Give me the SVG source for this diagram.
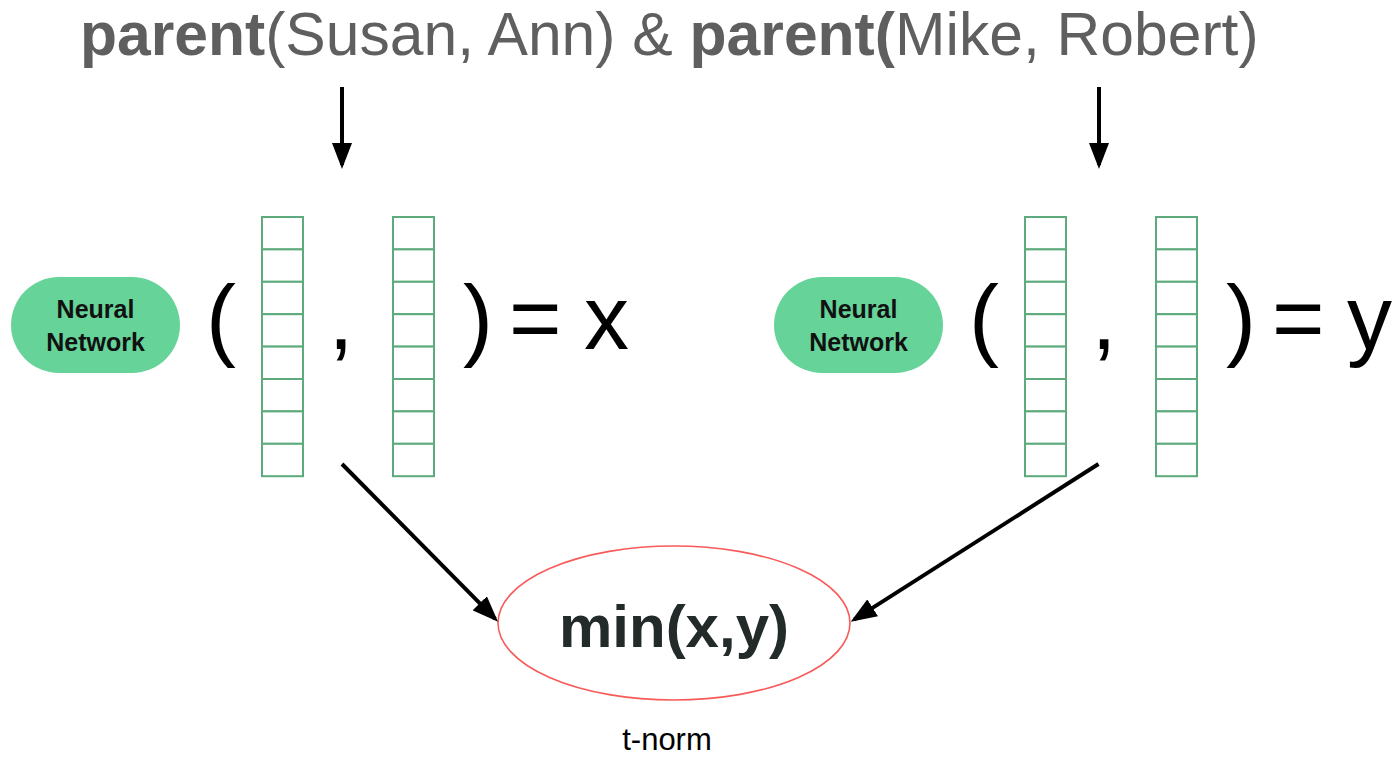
<svg xmlns="http://www.w3.org/2000/svg" xmlns:xlink="http://www.w3.org/1999/xlink" width="1399" height="757" viewBox="0 0 1399 757">
  <style>
    .title { font-family: "Liberation Sans", Arial, sans-serif; font-size: 60.6px; fill: #5f5f5f; }
    .b { font-weight: bold; }
    .nn-pill { fill: #66d399; }
    .nn-text { font-family: "Liberation Sans", Arial, sans-serif; font-weight: bold; font-size: 25px; fill: #111; text-anchor: middle; }
    .big { font-family: "Liberation Sans", Arial, sans-serif; font-size: 90px; fill: #000; }
    .cell { fill: #fff; stroke: #5daa7d; stroke-width: 2; }
    .conn { stroke: #000; stroke-width: 4; fill: none; marker-end: url(#arrow); }
    .tnorm { fill: #fff; stroke: #f85a5a; stroke-width: 1.6; }
  </style>
  <defs>
    <marker id="arrow" markerUnits="userSpaceOnUse" markerWidth="26" markerHeight="20" refX="22" refY="10" orient="auto">
      <path d="M0,0 L26,10 L0,20 z" fill="#000"/>
    </marker>
    <!-- embedding vector: 8 stacked cells -->
    <g id="vec">
      <rect class="cell" x="0" y="0" width="41" height="32.4"/>
      <rect class="cell" x="0" y="32.4" width="41" height="32.4"/>
      <rect class="cell" x="0" y="64.8" width="41" height="32.4"/>
      <rect class="cell" x="0" y="97.2" width="41" height="32.4"/>
      <rect class="cell" x="0" y="129.6" width="41" height="32.4"/>
      <rect class="cell" x="0" y="162" width="41" height="32.4"/>
      <rect class="cell" x="0" y="194.4" width="41" height="32.4"/>
      <rect class="cell" x="0" y="226.8" width="41" height="32.4"/>
    </g>
  </defs>

  <rect width="1399" height="757" fill="#fff"/>

  <g id="title">
    <text class="title" x="80" y="55"><tspan class="b">parent</tspan>(Susan, Ann) &amp; <tspan class="b">parent(</tspan>Mike, Robert)</text>
  </g>

  <g id="nn-x">
    <rect class="nn-pill" x="11" y="277" width="169" height="96" rx="48" ry="48"/>
    <text class="nn-text" x="95.5" y="318">Neural</text>
    <text class="nn-text" x="95.5" y="351">Network</text>
    <text class="big" x="206" y="349">(</text>
    <use xlink:href="#vec" x="262" y="217"/>
    <text class="big" x="341" y="349" text-anchor="middle">,</text>
    <use xlink:href="#vec" x="393" y="217"/>
    <text class="big" x="463" y="349">)</text>
    <text class="big" x="509" y="349">=</text>
    <text class="big" x="584" y="349">x</text>
  </g>

  <g id="nn-y">
    <rect class="nn-pill" x="774" y="277" width="169" height="96" rx="48" ry="48"/>
    <text class="nn-text" x="858.5" y="318">Neural</text>
    <text class="nn-text" x="858.5" y="351">Network</text>
    <text class="big" x="969" y="349">(</text>
    <use xlink:href="#vec" x="1025" y="217"/>
    <text class="big" x="1104" y="349" text-anchor="middle">,</text>
    <use xlink:href="#vec" x="1156" y="217"/>
    <text class="big" x="1226" y="349">)</text>
    <text class="big" x="1272" y="349">=</text>
    <text class="big" x="1347" y="349">y</text>
  </g>

  <g id="t-norm">
    <ellipse class="tnorm" cx="674" cy="623" rx="176" ry="77"/>
    <text x="674" y="647" text-anchor="middle" font-family="Liberation Sans, Arial, sans-serif" font-weight="bold" font-size="60" fill="#222a2a">min(x,y)</text>
    <text x="667" y="750" text-anchor="middle" font-family="Liberation Sans, Arial, sans-serif" font-size="31" fill="#000">t-norm</text>
  </g>

  <g id="connectors">
    <line class="conn" x1="342" y1="87" x2="342" y2="165" stroke-width="3.5"/>
    <line class="conn" x1="1099" y1="87" x2="1099" y2="165" stroke-width="3.5"/>
    <line class="conn" x1="342" y1="464" x2="495.2" y2="618.9"/>
    <line class="conn" x1="1098.5" y1="464" x2="854.1" y2="619.6"/>
  </g>
</svg>
